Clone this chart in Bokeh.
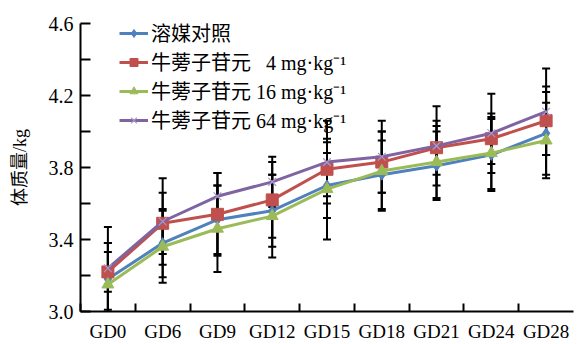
from bokeh.plotting import figure
from bokeh.models import (ColumnDataSource, Whisker, TeeHead, FixedTicker, Range1d,
                          PrintfTickFormatter, Legend, LegendItem)
from bokeh.embed import file_html
from bokeh.resources import INLINE

# ---- data ----
categories = ["GD0", "GD6", "GD9", "GD12", "GD15", "GD18", "GD21", "GD24", "GD28"]
series_names = ["溶媒对照", "牛蒡子苷元 \u20074 mg·kg⁻¹", "牛蒡子苷元 16 mg·kg⁻¹", "牛蒡子苷元 64 mg·kg⁻¹"]
vehicle = [3.18, 3.38, 3.51, 3.56, 3.70, 3.76, 3.81, 3.87, 3.99]
dose4 = [3.22, 3.49, 3.54, 3.62, 3.79, 3.83, 3.91, 3.96, 4.06]
dose16 = [3.15, 3.36, 3.46, 3.53, 3.68, 3.78, 3.83, 3.88, 3.95]
dose64 = [3.24, 3.50, 3.64, 3.72, 3.83, 3.86, 3.92, 3.99, 4.11]
sd_vehicle = [0.20, 0.19, 0.19, 0.20, 0.18, 0.19, 0.19, 0.20, 0.23]
sd_dose4 = [0.11, 0.17, 0.23, 0.21, 0.15, 0.17, 0.15, 0.14, 0.19]
sd_dose16 = [0.23, 0.20, 0.24, 0.23, 0.28, 0.22, 0.20, 0.20, 0.21]
sd_dose64 = [0.23, 0.24, 0.13, 0.14, 0.23, 0.20, 0.22, 0.22, 0.24]
y_ticks = [3.0, 3.4, 3.8, 4.2, 4.6]
y_minor = [3.2, 3.6, 4.0, 4.4]

SERIF = "Liberation Serif, Noto Sans CJK SC"
colors = ["#4F81BD", "#C0504D", "#9BBB59", "#8064A2"]

p = figure(width=577, height=344, output_backend="svg", toolbar_location=None,
           x_range=Range1d(-0.5, 8.5), y_range=Range1d(3.0, 4.6),
           min_border_left=80, min_border_right=4, min_border_top=23, min_border_bottom=30)
p.outline_line_color = None
p.xgrid.visible = False
p.ygrid.visible = False

xs = list(range(len(categories)))
vals = [vehicle, dose4, dose16, dose64]
sds = [sd_vehicle, sd_dose4, sd_dose16, sd_dose64]

# error bars first
for v, s in zip(vals, sds):
    src = ColumnDataSource(dict(x=xs, upper=[a + b for a, b in zip(v, s)],
                                lower=[a - b for a, b in zip(v, s)]))
    w = Whisker(base="x", upper="upper", lower="lower", source=src,
                line_color="black", line_width=2,
                upper_head=TeeHead(size=8, line_color="black", line_width=2),
                lower_head=TeeHead(size=8, line_color="black", line_width=2))
    p.add_layout(w)

items = []
markers = ["diamond", "square", "triangle", "x"]
sizes = [11, 12, 12, 11]
for i, (v, c) in enumerate(zip(vals, colors)):
    src = ColumnDataSource(dict(x=xs, y=v))
    ln = p.line("x", "y", source=src, line_color=c, line_width=3)
    if markers[i] == "x":
        mk = p.scatter("x", "y", source=src, marker="x", size=sizes[i],
                       line_color="#A898CC", line_width=1.2)
    else:
        mk = p.scatter("x", "y", source=src, marker=markers[i], size=sizes[i],
                       fill_color=c, line_color=c)
    items.append(LegendItem(label=series_names[i], renderers=[ln, mk]))

legend = Legend(items=items, location=(39, 177), orientation="vertical",
                background_fill_alpha=0, border_line_color=None,
                label_text_font=SERIF, label_text_font_size="20px",
                label_text_color="black", glyph_width=29, glyph_height=20,
                label_height=20, spacing=0, padding=0, margin=0, label_standoff=3)
p.add_layout(legend)

# x axis
xa = p.xaxis[0]
xa.ticker = FixedTicker(ticks=xs, minor_ticks=[i - 0.5 for i in xs])
xa.major_label_overrides = {i: c for i, c in enumerate(categories)}
xa.major_tick_line_color = None
xa.major_tick_in = 0
xa.major_tick_out = 0
xa.minor_tick_in = 8
xa.minor_tick_out = 0
xa.minor_tick_line_width = 2
xa.minor_tick_line_color = "black"
xa.axis_line_width = 2
xa.axis_line_color = "black"
xa.major_label_text_font = SERIF
xa.major_label_text_font_size = "19px"
xa.major_label_text_color = "black"
xa.major_label_standoff = 9

# y axis
ya = p.yaxis[0]
ya.ticker = FixedTicker(ticks=y_ticks, minor_ticks=y_minor)
ya.formatter = PrintfTickFormatter(format="%.1f")
ya.major_tick_in = 10
ya.major_tick_out = 0
ya.minor_tick_in = 10
ya.minor_tick_out = 0
ya.major_tick_line_width = 2
ya.minor_tick_line_width = 2
ya.major_tick_line_color = "black"
ya.minor_tick_line_color = "black"
ya.axis_line_width = 2
ya.axis_line_color = "black"
ya.major_label_text_font = SERIF
ya.major_label_text_font_size = "20px"
ya.major_label_text_color = "black"
ya.major_label_standoff = 7
ya.axis_label = "体质量/kg"
ya.axis_label_text_font = SERIF
ya.axis_label_text_font_size = "18px"
ya.axis_label_text_font_style = "normal"
ya.axis_label_text_color = "black"
ya.axis_label_standoff = 16

open("out.html", "w").write(file_html(p, INLINE))
